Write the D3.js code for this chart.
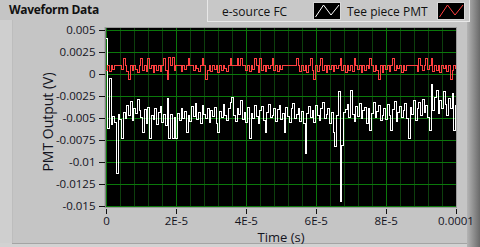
<!DOCTYPE html>
<html>
<head>
<meta charset="utf-8">
<script src="https://cdn.jsdelivr.net/npm/d3@7"></script>
<style>
  html, body { margin: 0; padding: 0; background: #c5c5c5; }
  svg { display: block; font-family: "Open Sans", "Noto Sans", sans-serif; }
</style>
</head>
<body>
<script>
// waveform: t0 = 0, dt = 0.5 us, values in mV
const t0 = 0;
const dt = 5e-7;

const eSourceFC = [
  4.0, -6.2, -0.6, -5.8, -4.9, -5.5, -11.3, -4.6, -5.2, -7.4,
  -4.4, -5.1, -3.6, -4.8, -3.2, -5.3, -3.9, -4.5, -2.9, -4.2,
  -5.0, -6.7, -4.1, -5.6, -3.8, -7.4, -4.7, -5.2, -4.0, -5.8,
  -4.4, -3.7, -5.5, -4.6, -5.9, -2.8, -7.4, -4.6, -7.4, -5.0,
  -7.4, -4.5, -5.3, -3.9, -5.1, -4.3, -6.7, -4.8, -5.4, -3.7,
  -4.9, -3.4, -5.2, -4.4, -5.7, -3.6, -4.6, -5.1, -3.9, -5.5,
  -4.2, -4.9, -3.8, -5.6, -6.7, -4.3, -5.0, -3.5, -4.7, -5.3,
  -4.0, -3.3, -2.7, -4.8, -5.4, -3.9, -4.6, -3.1, -5.2, -4.4,
  -5.5, -3.8, -7.4, -4.5, -5.1, -3.6, -4.9, -5.6, -4.2, -3.7,
  -5.3, -6.7, -4.4, -3.5, -5.0, -4.7, -3.9, -5.4, -4.1, -3.6,
  -5.2, -4.5, -6.7, -3.8, -4.9, -5.5, -4.0, -3.4, -5.1, -4.6,
  -3.9, -5.4, -4.3, -5.7, -9.0, -4.5, -3.7, -5.0, -4.2, -5.5,
  -3.6, -4.8, -5.3, -4.0, -3.3, -5.1, -4.6, -3.9, -5.6, -4.4,
  -6.7, -8.3, -4.7, -2.0, -14.5, -8.2, -4.4, -4.1, -3.5, -5.0,
  -1.9, -4.6, -5.4, -3.7, -4.9, -3.4, -5.1, -4.2, -3.8, -5.6,
  -4.0, -6.4, -4.5, -3.3, -5.0, -4.3, -3.6, -5.3, -4.7, -3.9,
  -5.2, -3.5, -4.8, -6.4, -4.1, -3.2, -5.4, -4.4, -3.7, -5.0,
  -4.2, -3.4, -5.1, -7.4, -3.8, -4.6, -3.0, -5.3, -4.0, -3.3,
  -4.8, -2.9, -4.4, -3.6, -5.0, -6.4, -1.2, -4.2, -2.7, -1.9,
  -4.5, -3.1, -4.0, -2.0, -3.5, -4.7, -2.8, -3.9, -2.2, -6.4,
  -3.6
];

const teePiecePMT = [
  0.3, 0.9, 0.2, 0.9, 0.5, 0.9, 0.9, 0.9, 0.9, 0.5,
  1.7, 0.9, 0.2, -0.7, 0.9, 0.3, 0.9, 0.5, 0.1, 0.9,
  1.7, 0.4, 0.9, 0.2, 1.7, 0.6, 0.9, 0.1, 0.9, 0.4,
  0.9, 0.2, 0.9, 1.7, 0.3, -0.7, 1.8, 0.9, 1.8, 0.4,
  0.9, 0.9, 0.9, 0.2, 0.9, 0.5, 0.9, 1.7, 0.9, 0.9,
  0.3, 0.9, 0.6, 0.2, 0.9, 1.7, 0.9, -0.7, 0.4, 0.9,
  0.2, 0.9, 0.5, 0.9, 0.1, 0.9, 0.3, 0.9, 0.6, 0.2,
  0.9, 1.7, 0.9, 0.9, 0.9, 1.7, 0.9, 1.7, 0.9, 0.9,
  0.3, 0.9, 0.2, 0.9, 0.5, 1.7, 0.9, 0.1, 1.7, 0.4,
  0.9, 0.2, 0.9, 0.6, 0.9, 1.7, 0.3, 0.9, 0.2, 0.9,
  0.5, 0.9, 0.9, 0.9, 0.9, 0.9, 0.9, 0.9, 0.9, 1.7,
  0.9, 0.2, 0.9, 0.4, 0.9, 0.1, 0.9, 1.7, 0.3, -0.7,
  0.9, 0.2, 0.9, 1.7, 0.4, 0.9, 0.1, 0.9, 0.5, 0.9,
  0.2, 0.9, 0.6, 0.9, 1.7, 0.3, 0.9, 0.1, 0.9, 0.4,
  0.9, 0.2, 1.7, 0.9, 0.5, 0.9, 0.1, 0.9, 0.3, 0.9,
  0.6, 1.7, 0.9, 0.2, 0.9, 0.4, -0.7, 0.9, 0.1, 0.9,
  0.5, 0.9, 0.2, 0.9, 1.7, 0.3, 0.9, 0.6, 0.9, 0.1,
  0.9, 0.4, 0.9, 0.9, 0.9, 0.9, 0.9, 0.9, 0.2, 1.7,
  0.9, 0.3, 0.9, 1.7, 0.5, 0.9, 1.7, 0.2, 0.9, 0.4,
  0.9, 0.1, 0.9, 0.6, 0.9, 0.2, 0.9, -0.7, 0.3, 0.9,
  0.5
];

const seriesNames = ["e-source FC", "Tee piece PMT"];
const seriesColors = ["#ffffff", "#ff4040"];

const xTicks = [0, 2e-5, 4e-5, 6e-5, 8e-5, 1e-4];
const xTickLabels = ["0", "2E-5", "4E-5", "6E-5", "8E-5", "0.0001"];
const yTicks = [0.005, 0.0025, 0, -0.0025, -0.005, -0.0075, -0.01, -0.0125, -0.015];
const yTickLabels = ["0.005", "0.0025", "0", "-0.0025", "-0.005", "-0.0075", "-0.01", "-0.0125", "-0.015"];

const width = 480;
const height = 247;

const svg = d3.select("body").append("svg")
  .attr("width", width)
  .attr("height", height);

// frame shading
const defs = svg.append("defs");
const grad = defs.append("linearGradient").attr("id", "rside");
grad.append("stop").attr("offset", "0").attr("stop-color", "#b4b4b4");
grad.append("stop").attr("offset", "1").attr("stop-color", "#6a6a6a");

svg.append("rect").attr("width", width).attr("height", height).attr("fill", "#c5c5c5");
svg.append("rect").attr("x", 0).attr("y", 20).attr("width", 12).attr("height", height - 20).attr("fill", "#cfcfcf");
svg.append("rect").attr("x", 0).attr("y", 243).attr("width", 467).attr("height", 4).attr("fill", "#d2d2d2");
svg.append("line").attr("x1", 12).attr("x2", 467).attr("y1", 243.5).attr("y2", 243.5).attr("stroke", "#a4a4a4");
svg.append("line").attr("x1", 12.5).attr("x2", 12.5).attr("y1", 20).attr("y2", 243).attr("stroke", "#bdbdbd");
svg.append("rect").attr("x", 467).attr("y", 0).attr("width", 13).attr("height", height).attr("fill", "url(#rside)");

svg.append("text")
  .attr("x", 9).attr("y", 14)
  .attr("font-size", 12).attr("font-weight", "bold")
  .attr("letter-spacing", -0.3)
  .attr("fill", "#111")
  .text("Waveform Data");

// plot
const plot = { left: 105.5, right: 456, top: 28, bottom: 207 };
const x = d3.scaleLinear().domain([0, 1e-4]).range([106, 455.5]);
const y = d3.scaleLinear().domain([-0.015, 0.005]).range([206, 29.5]);

svg.append("rect")
  .attr("x", plot.left).attr("y", plot.top)
  .attr("width", plot.right - plot.left).attr("height", plot.bottom - plot.top)
  .attr("fill", "#000");

defs.append("clipPath").attr("id", "clip").append("rect")
  .attr("x", plot.left).attr("y", plot.top)
  .attr("width", plot.right - plot.left).attr("height", plot.bottom - plot.top);

const grid = svg.append("g").attr("shape-rendering", "crispEdges");
const minor = d3.range(0, 26).map(i => i * 4e-6).filter(v => !xTicks.some(t => Math.abs(t - v) < 1e-9));
grid.selectAll(".minor").data(minor).enter().append("line")
  .attr("x1", d => Math.round(x(d)) + 0.5).attr("x2", d => Math.round(x(d)) + 0.5)
  .attr("y1", plot.top).attr("y2", plot.bottom)
  .attr("stroke", "#0d3f0d");
grid.selectAll(".vmaj").data(xTicks).enter().append("line")
  .attr("x1", d => Math.round(x(d)) + 0.5).attr("x2", d => Math.round(x(d)) + 0.5)
  .attr("y1", plot.top).attr("y2", plot.bottom)
  .attr("stroke", "#0b780b");
grid.selectAll(".hmaj").data(yTicks).enter().append("line")
  .attr("x1", plot.left).attr("x2", plot.right)
  .attr("y1", d => Math.round(y(d)) + 0.5).attr("y2", d => Math.round(y(d)) + 0.5)
  .attr("stroke", "#0b780b");

// traces
const line = d3.line()
  .x((d, i) => x(t0 + i * dt))
  .y(d => y(d / 1000))
  .curve(d3.curveStepAfter);

const traces = svg.append("g").attr("clip-path", "url(#clip)").attr("shape-rendering", "crispEdges");
[eSourceFC, teePiecePMT].forEach((vals, k) => {
  traces.append("path")
    .attr("d", line(vals))
    .attr("fill", "none")
    .attr("stroke", seriesColors[k])
    .attr("stroke-width", 1);
});

// plot border
svg.append("rect")
  .attr("x", plot.left - 0.5).attr("y", plot.top - 0.5)
  .attr("width", plot.right - plot.left + 1).attr("height", plot.bottom - plot.top + 1)
  .attr("fill", "none").attr("stroke", "#9a9a9a");

// axes
const yAxis = d3.axisLeft(y)
  .tickValues(yTicks)
  .tickFormat((d, i) => yTickLabels[i])
  .tickSize(6).tickPadding(3);
const gy = svg.append("g").attr("transform", `translate(${plot.left - 1},0)`).call(yAxis);

const xAxis = d3.axisBottom(x)
  .tickValues(xTicks)
  .tickFormat((d, i) => xTickLabels[i])
  .tickSize(5).tickPadding(3);
const gx = svg.append("g").attr("transform", `translate(0,${plot.bottom + 2})`).call(xAxis);

[gy, gx].forEach(g => {
  g.select(".domain").remove();
  g.selectAll(".tick line").attr("stroke", "#111").attr("shape-rendering", "crispEdges");
  g.selectAll(".tick text")
    .attr("fill", "#14141e")
    .attr("font-size", 11.5)
    .attr("font-family", "\"Open Sans\", \"Noto Sans\", sans-serif");
});

svg.append("text")
  .attr("x", 281).attr("y", 242)
  .attr("text-anchor", "middle")
  .attr("font-size", 13).attr("fill", "#14141e")
  .text("Time (s)");

svg.append("text")
  .attr("transform", "translate(53,122) rotate(-90)")
  .attr("text-anchor", "middle")
  .attr("font-size", 14).attr("fill", "#14141e")
  .text("PMT Output (V)");

// legend
const legend = svg.append("g");
legend.append("rect")
  .attr("x", 207.5).attr("y", -1.5).attr("width", 262).attr("height", 23)
  .attr("fill", "#c8c8c8").attr("stroke", "#e8e8e8");
const legendItems = [
  { name: seriesNames[0], tx: 222, sx: 313 },
  { name: seriesNames[1], tx: 347, sx: 437 }
];
legendItems.forEach((it, k) => {
  legend.append("text")
    .attr("x", it.tx).attr("y", 15.5)
    .attr("font-size", 12).attr("fill", "#111")
    .text(it.name);
  legend.append("rect")
    .attr("x", it.sx + 0.5).attr("y", 2.5).attr("width", 27).attr("height", 17)
    .attr("fill", "#000").attr("stroke", "#d8d8d8");
  const zig = [[2.5, 14.5], [10.5, 2.5], [18, 12.5], [26, 2.5]];
  legend.append("path")
    .attr("d", d3.line()(zig.map(p => [it.sx + p[0], 2.5 + p[1]])))
    .attr("fill", "none")
    .attr("stroke", seriesColors[k]);
});
</script>
</body>
</html>
